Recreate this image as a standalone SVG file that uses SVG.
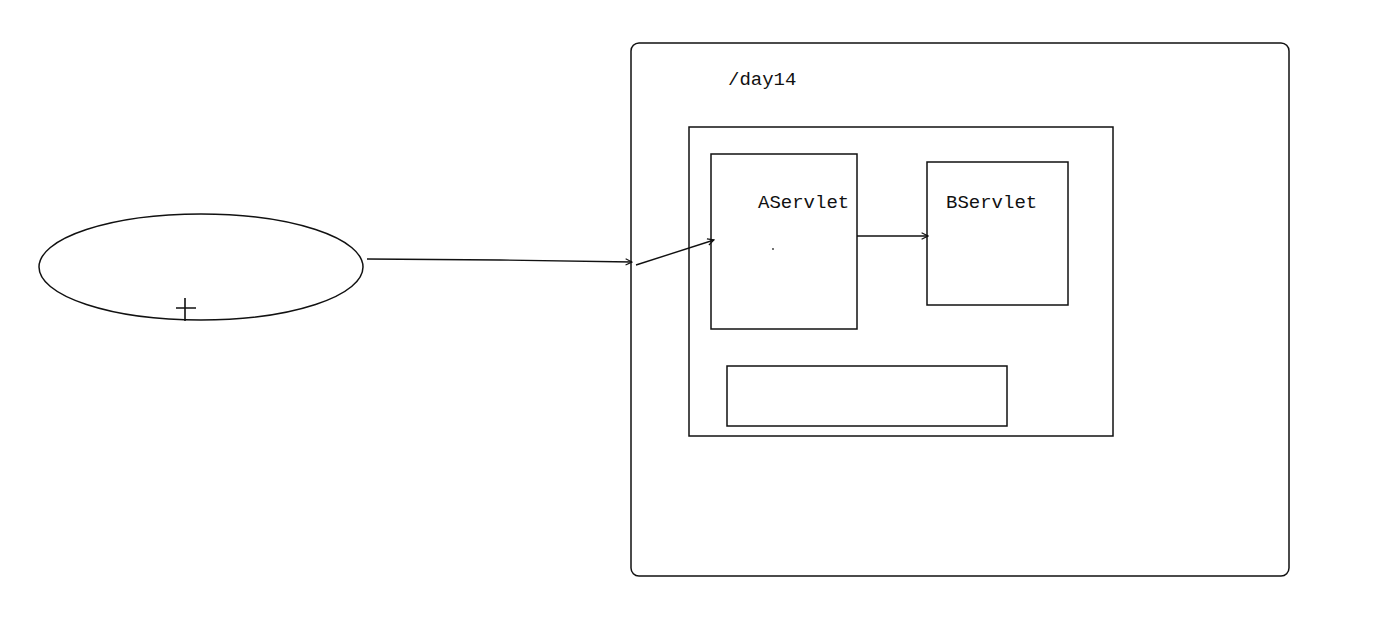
<svg xmlns="http://www.w3.org/2000/svg" width="1395" height="636" viewBox="0 0 1395 636">
  <style>
    .box { fill: none; stroke: #111; stroke-width: 1.5; }
    .wire { fill: none; stroke: #111; stroke-width: 1.4; }
    .lbl { font-family: "Liberation Mono", "DejaVu Sans Mono", monospace; font-size: 19px; fill: #111; }
  </style>
  <defs>
    <marker id="arrow" viewBox="0 0 10 10" refX="9" refY="5" markerWidth="8" markerHeight="8" orient="auto" markerUnits="userSpaceOnUse">
      <path d="M1,1 L9,5 L1,9" fill="none" stroke="#111" stroke-width="1.4"/>
    </marker>
  </defs>
  <rect width="1395" height="636" fill="#fff"/>

  <g id="client">
    <ellipse cx="201" cy="267" rx="162" ry="53" class="box"/>
    <path d="M185,298 V321 M176,308 H196" stroke="#111" stroke-width="1.6"/>
  </g>

  <g id="server">
    <rect x="631" y="43" width="658" height="533" rx="8" class="box"/>
    <text x="728" y="85" class="lbl">/day14</text>
  </g>

  <g id="webapp">
    <rect x="689" y="127" width="424" height="309" class="box"/>
  </g>

  <g id="aservlet">
    <rect x="711" y="154" width="146" height="175" class="box"/>
    <text x="758" y="208" class="lbl">AServlet</text>
    <circle cx="773" cy="249" r="0.9" fill="#333"/>
  </g>

  <g id="bservlet">
    <rect x="927" y="162" width="141" height="143" class="box"/>
    <text x="946" y="208" class="lbl">BServlet</text>
  </g>

  <g id="context">
    <rect x="727" y="366" width="280" height="60" class="box"/>
  </g>

  <g id="connectors">
    <path d="M367,259 L500,260 L632,262" class="wire" marker-end="url(#arrow)"/>
    <path d="M636,265 L714,240" class="wire" marker-end="url(#arrow)"/>
    <path d="M857,236 L928,236" class="wire" marker-end="url(#arrow)"/>
  </g>
</svg>
